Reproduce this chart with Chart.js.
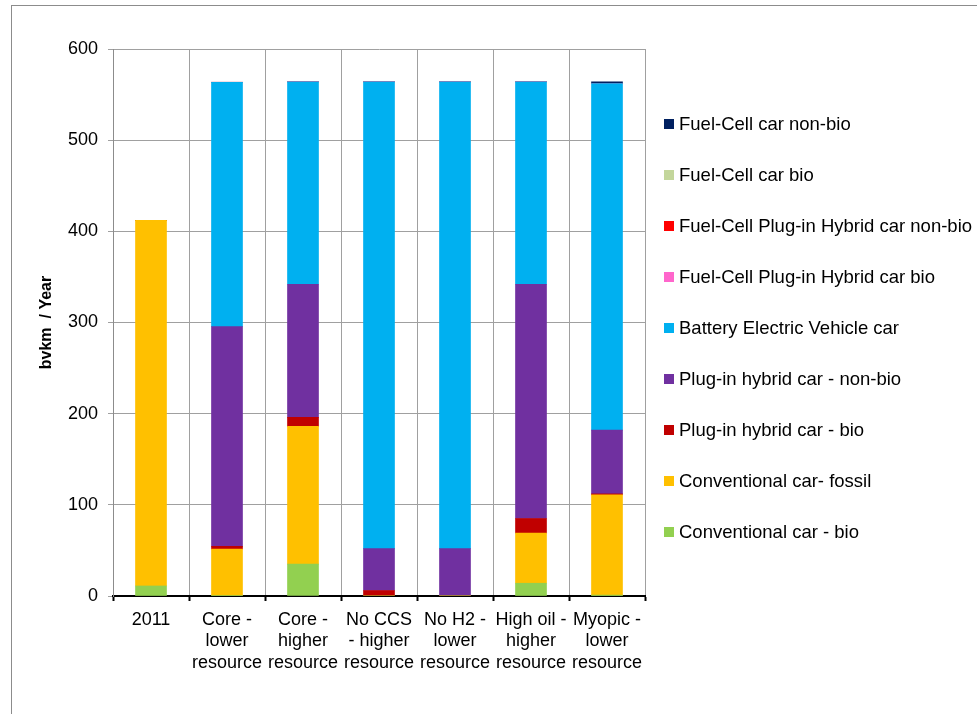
<!DOCTYPE html>
<html>
<head>
<meta charset="utf-8">
<script src="https://cdn.jsdelivr.net/npm/chart.js@4.4.0/dist/chart.umd.min.js"></script>
<style>
  html, body { margin: 0; padding: 0; background: #fff; }
  #wrap { position: relative; width: 977px; height: 714px; overflow: hidden; }
  #frame { position: absolute; left: 11px; top: 5px; width: 980px; height: 720px; border: 1px solid #8c8c8c; box-sizing: border-box; }
  #chart { position: absolute; left: 0; top: 0; }
  #legend { position: absolute; left: 664px; top: 113px; font-family: "Liberation Sans", Arial, sans-serif; font-size: 18.5px; color: #000; }
  #legend div { height: 51px; white-space: nowrap; }
  #legend span { display: inline-block; width: 10px; height: 10px; margin-right: 5px; vertical-align: 1px; }
</style>
</head>
<body>
<div id="wrap">
  <div id="frame"></div>
  <canvas id="chart" width="977" height="714"></canvas>
  <div id="legend"></div>
</div>
<script>
const categories = [
  ['2011'],
  ['Core -', 'lower', 'resource'],
  ['Core -', 'higher', 'resource'],
  ['No CCS', '- higher', 'resource'],
  ['No H2 -', 'lower', 'resource'],
  ['High oil -', 'higher', 'resource'],
  ['Myopic -', 'lower', 'resource']
];

const yTicks = [0, 100, 200, 300, 400, 500, 600];

// bvkm / year, stacked bottom to top
const convBio        = [11, 0.5, 35, 0, 0, 14, 1];
const convFossil     = [401, 51, 151, 0, 0, 55, 110];
const phevBio        = [0, 3, 10, 6, 0, 16, 1];
const phevNonBio     = [0, 241, 146, 46, 52, 257, 70];
const bev            = [0, 268, 222, 512, 512, 222, 380];
const fcPhevBio      = [0, 0, 0, 0, 0, 0, 0];
const fcPhevNonBio   = [0, 0, 0, 0, 0, 0, 0];
const fcBio          = [0, 0, 0, 0, 0, 0, 0];
const fcNonBio       = [0, 0, 0, 0, 0, 0, 2];

const series = [
  { label: 'Conventional car - bio', data: convBio, color: '#92D050' },
  { label: 'Conventional car- fossil', data: convFossil, color: '#FFC000' },
  { label: 'Plug-in hybrid car - bio', data: phevBio, color: '#C00000' },
  { label: 'Plug-in hybrid car - non-bio', data: phevNonBio, color: '#7030A0' },
  { label: 'Battery Electric Vehicle car', data: bev, color: '#00B0F0' },
  { label: 'Fuel-Cell Plug-in Hybrid car bio', data: fcPhevBio, color: '#FF66CC' },
  { label: 'Fuel-Cell Plug-in Hybrid car non-bio', data: fcPhevNonBio, color: '#FF0000' },
  { label: 'Fuel-Cell car bio', data: fcBio, color: '#C3D69B' },
  { label: 'Fuel-Cell car non-bio', data: fcNonBio, color: '#002060' }
];

const font = "'Liberation Sans', Arial, sans-serif";

const ctx = document.getElementById('chart');

const chart = new Chart(ctx, {
  type: 'bar',
  data: {
    labels: categories,
    datasets: series.map(s => ({
      label: s.label,
      data: s.data,
      backgroundColor: s.color,
      borderWidth: 0,
      barThickness: 31
    }))
  },
  options: {
    responsive: false,
    animation: false,
    layout: { padding: { left: 0, top: 49, right: 332, bottom: 0 } },
    plugins: {
      legend: { display: false },
      tooltip: { enabled: false }
    },
    scales: {
      x: {
        stacked: true,
        grid: { color: '#a0a0a0', lineWidth: 1, tickColor: '#000', tickWidth: 2, tickLength: 5, offset: true },
        border: { color: '#000', width: 2 },
        ticks: { color: '#000', font: { family: font, size: 18, lineHeight: 1.2 }, padding: 8, maxRotation: 0, autoSkip: false },
        afterFit: s => { s.height = 118; }
      },
      y: {
        stacked: true,
        min: 0,
        max: 600,
        afterBuildTicks: s => { s.ticks = yTicks.map(v => ({ value: v })); },
        grid: { color: '#a0a0a0', lineWidth: 1, tickLength: 5, tickColor: '#a0a0a0' },
        border: { color: '#8c8c8c', width: 1 },
        ticks: { color: '#000', font: { family: font, size: 18 }, padding: 10 },
        title: { display: true, text: 'bvkm  / Year', color: '#000', font: { family: font, size: 16, weight: 'bold' }, padding: { top: 37, bottom: 0 } },
        afterFit: s => { s.width = 113; }
      }
    }
  }
});

// legend, top entry = top of stack
const legend = document.getElementById('legend');
series.slice().reverse().forEach(s => {
  const row = document.createElement('div');
  row.innerHTML = '<span style="background:' + s.color + '"></span>' + s.label;
  legend.appendChild(row);
});
</script>
</body>
</html>
